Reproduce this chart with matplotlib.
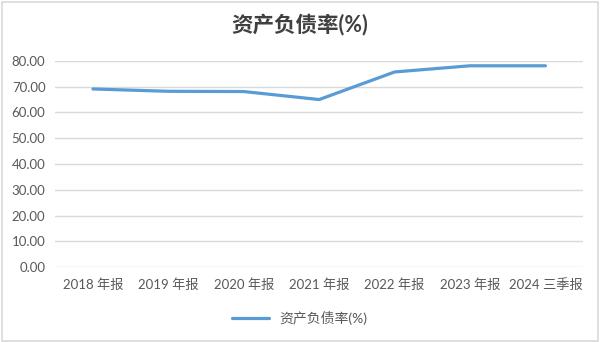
import matplotlib
matplotlib.use('agg')
import matplotlib.pyplot as plt
from matplotlib.patches import Rectangle

plt.rcParams['font.family'] = ['Lato', 'Noto Sans CJK SC', 'DejaVu Sans']

categories = ['2018 年报', '2019 年报', '2020 年报', '2021 年报', '2022 年报', '2023 年报', '2024 三季报']
ratio = [69.1, 68.2, 68.1, 65.0, 75.7, 78.1, 78.1]
yticks = [0, 10, 20, 30, 40, 50, 60, 70, 80]

fig = plt.figure(figsize=(6, 3.42), dpi=100)
ax = fig.add_axes([0.092, 0.219, 0.88, 0.603])

x = list(range(len(categories)))
ax.plot(x, ratio, color='#5B9BD5', linewidth=2.3, solid_capstyle='round',
        label='资产负债率(%)')

ax.set_xlim(-0.5, len(categories) - 0.5)
ax.set_ylim(0, 80)
ax.set_yticks(yticks)
ax.set_yticklabels(['{:.2f}'.format(v) for v in yticks])
ax.set_xticks(x)
ax.set_xticklabels(categories)
ax.tick_params(axis='both', length=0, colors='#595959', labelsize=9.5)
ax.tick_params(axis='x', pad=8)
ax.tick_params(axis='y', pad=7)
ax.grid(axis='y', color='#d9d9d9', linewidth=1)
ax.set_axisbelow(True)
for s in ax.spines.values():
    s.set_visible(False)

fig.text(0.5, 0.927, '资产负债率(%)', ha='center', va='center', fontsize=15.5,
         fontweight='bold', color='#404040')

fig.legend(loc='center', bbox_to_anchor=(0.5, 0.07), frameon=False,
           fontsize=10, labelcolor='#595959', handlelength=2.6)

fig.patches.append(Rectangle((0.003, 0.004), 0.994, 0.99, transform=fig.transFigure,
                             fill=False, edgecolor='#d9d9d9', linewidth=1.2))

fig.savefig('out.png', dpi=100, facecolor='white')
